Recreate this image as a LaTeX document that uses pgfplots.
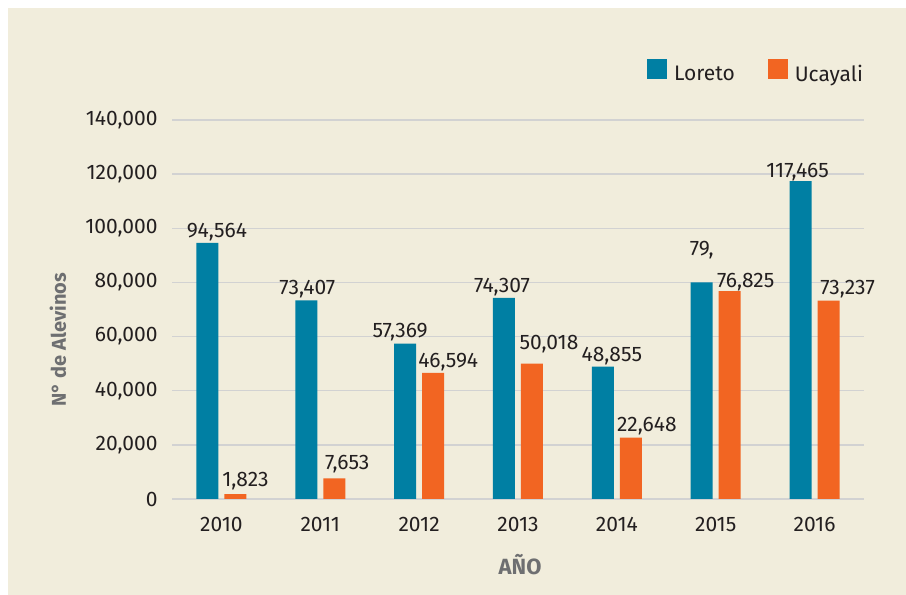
\documentclass[border=0pt]{standalone}
\usepackage{pgfplots}
\usepackage{pgfplotstable}
\pgfplotsset{compat=1.18}
\usepackage{fontspec}
\setmainfont{Fira Sans}
\definecolor{teal1}{RGB}{0,127,163}
\definecolor{orng}{RGB}{242,101,34}
\definecolor{beige}{RGB}{241,237,220}
\definecolor{txt}{RGB}{35,31,32}
\definecolor{gridc}{RGB}{210,210,210}
\definecolor{lab}{RGB}{110,111,113}

\pgfplotstableread{
x y label dx dy
0 94564 {94,564} 9.5 5
1 73407 {73,407} 1 6
2 57369 {57,369} -5 6
3 74307 {74,307} -2 5
4 48855 {48,855} 9 5
5 80000 {79,} 0 27
6 117465 {117,465} -3 4
}\loreto

\pgfplotstableread{
x y label dx dy
0 1823 {1,823} 10 8
1 7653 {7,653} 13 9
2 46594 {46,594} 15 5
3 50018 {50,018} 17 14
4 22648 {22,648} 16 6
5 76825 {76,825} 16 4
6 73237 {73,237} 19 6
}\ucayali

\begin{document}
\begin{tikzpicture}
\fill[white] (0,0) rectangle (906bp,595bp);
\fill[beige] (8bp,0) rectangle (906bp,587bp);
\path[use as bounding box] (0,0) rectangle (906bp,595bp);
\begin{axis}[
  at={(172bp,96bp)}, anchor=south west,
  width=692bp, height=379bp, scale only axis,
  ybar=6bp, bar width=22bp,
  xmin=-0.5, xmax=6.5, ymin=0, ymax=140000,
  xtick={0,1,2,3,4,5,6},
  xticklabels={2010,2011,2012,2013,2014,2015,2016},
  ytick={0,20000,40000,60000,80000,100000,120000,140000},
  yticklabels={0,{20,000},{40,000},{60,000},{80,000},{100,000},{120,000},{140,000}},
  scaled y ticks=false,
  axis line style={draw=none},
  major tick length=0pt,
  ymajorgrids, grid style={gridc, line width=1.3bp},
  tick label style={font=\fontsize{21bp}{24bp}\selectfont, text=txt},
  yticklabel style={xshift=-11bp},
  xticklabel style={yshift=-15bp},
  xlabel={AÑO},
  ylabel={N° de Alevinos},
  xlabel style={at={(axis description cs:0.503,-0.174)}, anchor=center, font=\bfseries\fontsize{22bp}{26bp}\selectfont, text=lab},
  ylabel style={at={(axis description cs:-0.165,0.42)}, anchor=center, font=\bfseries\fontsize{20bp}{24bp}\selectfont, text=lab},
  nodes near coords={\pgfplotspointmeta},
  point meta=explicit symbolic,
  visualization depends on={\thisrow{dx} \as \dx},
  visualization depends on={\thisrow{dy} \as \dy},
  every node near coord/.append style={font=\fontsize{21bp}{24bp}\selectfont, text=txt, anchor=base, inner sep=0pt, xshift=\dx bp, yshift=\dy bp},
  legend style={at={(axis description cs:0.6864,1.161)}, anchor=north west, draw=none, fill=none, inner sep=0pt, font=\fontsize{21bp}{24bp}\selectfont, text=txt, legend columns=2, /tikz/every odd column/.append style={column sep=5bp}, /tikz/every even column/.append style={column sep=31bp}},
  legend image code/.code={\fill[#1] (0bp,-5bp) rectangle (20bp,15bp);},
]
\addplot[fill=teal1, draw=none] table[x=x, y=y, meta=label] {\loreto};
\addplot[fill=orng, draw=none] table[x=x, y=y, meta=label] {\ucayali};
\legend{Loreto, Ucayali}
\end{axis}
\end{tikzpicture}
\end{document}
